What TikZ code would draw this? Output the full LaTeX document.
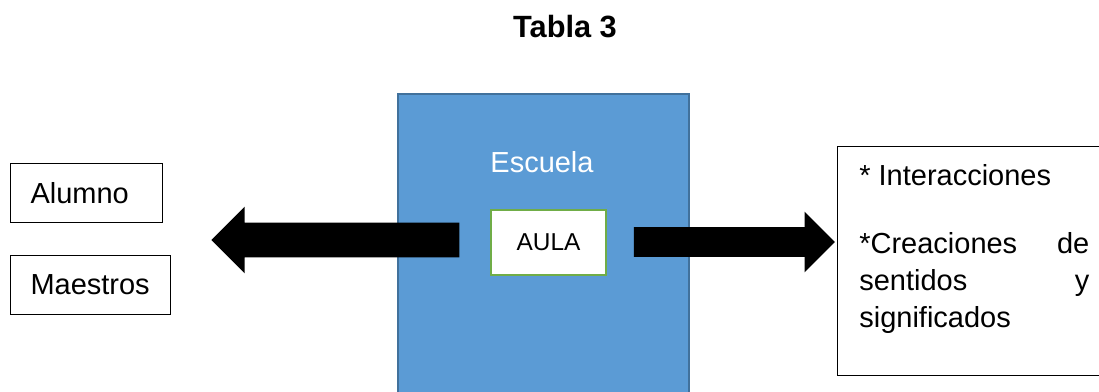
\documentclass[tikz,border=0pt]{standalone}
\usepackage{fontspec}
\setmainfont{Liberation Sans}
\usepackage{xcolor}
\usepackage{tikz}
\usetikzlibrary{positioning, shapes.arrows}

\definecolor{escuelaazul}{HTML}{5B9BD5}
\definecolor{escuelaborde}{HTML}{41719C}
\definecolor{aulaverde}{HTML}{70AD47}

\begin{document}
\begin{tikzpicture}[
        x=0.02cm, y=-0.02cm,
        every node/.style={font=\fontsize{16.5}{21}\selectfont, inner sep=0pt},
        caja/.style={draw, line width=0.6pt, minimum height=1.18cm, inner xsep=0.4cm, align=left, anchor=north west},
        escuelabox/.style={draw=escuelaborde, fill=escuelaazul, line width=1.2pt, minimum width=5.82cm, minimum height=6.8cm, anchor=north west},
        aulabox/.style={draw=aulaverde, fill=white, line width=1.1pt, minimum width=2.3cm, minimum height=1.3cm, font=\fontsize{13.9}{16}\selectfont},
        flecha/.style={single arrow, fill=black, single arrow tip angle=90, inner xsep=0pt},
        texto/.style={anchor=base west}
    ]
    \useasboundingbox (0,0) rectangle (1099,392);

    % Nodes -----------------------------------------------
    \node[font=\fontsize{17.5}{21}\selectfont\bfseries, anchor=base] (titulo) at (565,37) {Tabla 3};

    \node[caja, text width=2.24cm] (alumno) at (10,163) {Alumno};
    \node[caja, text width=2.4cm, below=0.64cm of alumno.south west, anchor=north west] (maestros) {Maestros};

    \node[escuelabox] (escuela) at (397,93) {};
    \node[text=white, anchor=base] (escuelatxt) at (542,172) {Escuela};
    \node[aulabox] (aula) at (548.5,242.5) {AULA};

    \node[draw, line width=0.6pt, minimum width=5.7cm, minimum height=4.58cm, anchor=north west] (resultados) at (837,146) {};
    \node[texto] (interac) at (859,185) {* Interacciones};
    \node[texto] (creac) at (859,253) {\hbox to 4.6cm{*Creaciones\hfill de}};
    \node[texto] (sent) at (859,290) {\hbox to 4.6cm{sentidos\hfill y}};
    \node[texto] (signif) at (859,327) {significados};

    % block arrows
    \node[flecha, shape border rotate=180, minimum height=4.96cm, inner ysep=0.34cm,
          single arrow head extend=0.32cm] (flechaizq) at (344,240) {};
    \node[flecha, minimum height=4.02cm, inner ysep=0.29cm,
          single arrow head extend=0.31cm] (flechader) at (727,242) {};
\end{tikzpicture}
\end{document}
